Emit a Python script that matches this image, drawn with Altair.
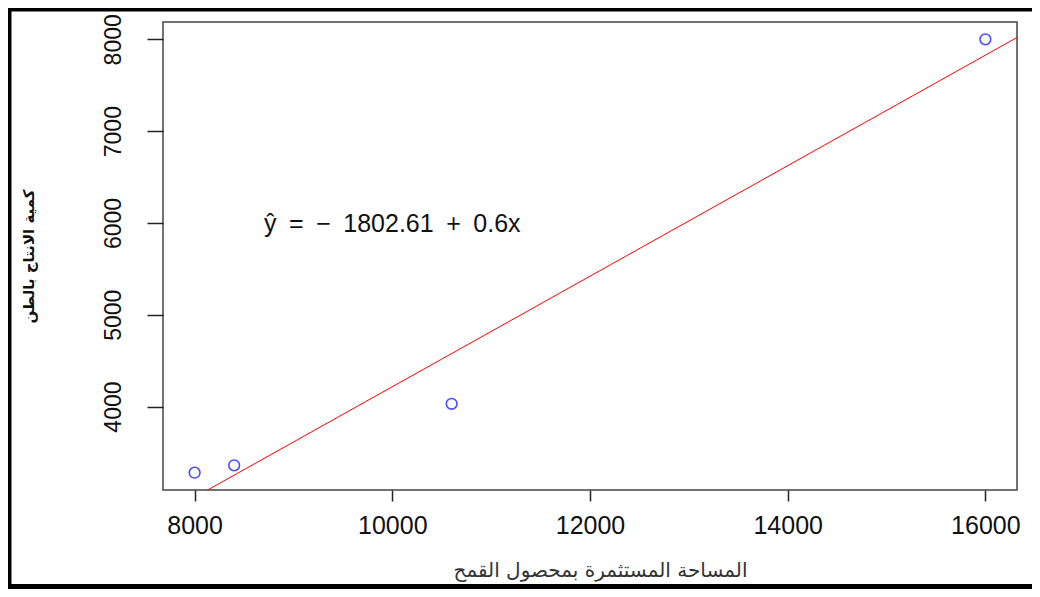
import altair as alt
import pandas as pd

# data
area = [8000, 8400, 10600, 16000]
production = [3280, 3360, 4030, 8000]
x_ticks = [8000, 10000, 12000, 14000, 16000]
y_ticks = [4000, 5000, 6000, 7000, 8000]
x_title = "المساحة المستثمرة بمحصول القمح"
y_title = "كمية الانتاج بالطن"
equation = "ŷ\u2002=\u2002−\u20021802.61\u2002+\u20020.6x"
eq_pos = [10000, 5985]

x_domain = [7680, 16320]
y_domain = [3091.2, 8188.8]

df = pd.DataFrame({"area": area, "production": production})
eq_df = pd.DataFrame({"x": [eq_pos[0]], "y": [eq_pos[1]], "t": [equation]})
one = pd.DataFrame({"k": [0]})

W, H = 854, 468
PAD = {"left": 155, "top": 14, "right": 15, "bottom": 99}

xs = alt.Scale(domain=x_domain, nice=False, zero=False)
ys = alt.Scale(domain=y_domain, nice=False, zero=False)

x_axis = alt.Axis(values=x_ticks, format="d", title=x_title, grid=False, domain=False,
                  tickSize=11, tickWidth=1.5, tickColor="#222",
                  labelFont="Liberation Sans", labelFontSize=25, labelColor="#111",
                  labelPadding=12,
                  titleFont="DejaVu Sans", titleFontSize=20, titleFontWeight="normal",
                  titleColor="#333", titleX=437, titleY=80, titleBaseline="middle",
                  titleAlign="center")
y_axis = alt.Axis(values=y_ticks, format="d", title=y_title, grid=False, domain=False,
                  tickSize=16, tickWidth=1.5, tickColor="#222",
                  labelFont="Liberation Sans", labelFontSize=23, labelColor="#111",
                  labelAngle=270, labelAlign="center", labelBaseline="bottom",
                  labelPadding=22,
                  titleFont="DejaVu Sans", titleFontSize=15, titleFontWeight="bold",
                  titleColor="#111", titleAngle=270, titleX=-135, titleY=H / 2,
                  titleBaseline="middle", titleAlign="center")

base = alt.Chart(df)

points = base.mark_point(shape="circle", filled=False, color="#0000ff",
                         size=115, strokeWidth=1.6).encode(
    x=alt.X("area:Q", scale=xs, axis=x_axis),
    y=alt.Y("production:Q", scale=ys, axis=y_axis),
)

reg = base.transform_regression("area", "production", extent=x_domain).mark_line(
    color="#ff0000", strokeWidth=1, clip=True).encode(
    x=alt.X("area:Q", scale=xs),
    y=alt.Y("production:Q", scale=ys),
)

eq = alt.Chart(eq_df).mark_text(font="Liberation Sans", fontSize=25, color="#111",
                                align="center", baseline="middle").encode(
    x=alt.X("x:Q", scale=xs),
    y=alt.Y("y:Q", scale=ys),
    text="t:N",
)

# outer black frame (left, top, bottom)
frame_left = alt.Chart(one).mark_rule(color="black", strokeWidth=5).encode(
    x=alt.value(-154), y=alt.value(-16), y2=alt.value(570))
frame_top = alt.Chart(one).mark_rule(color="black", strokeWidth=5).encode(
    x=alt.value(-156), x2=alt.value(880), y=alt.value(-13))
frame_bottom = alt.Chart(one).mark_rule(color="black", strokeWidth=5).encode(
    x=alt.value(-156), x2=alt.value(880), y=alt.value(564.5))

chart = alt.layer(reg, points, eq, frame_left, frame_top, frame_bottom).properties(
    width=W, height=H,
    autosize=alt.AutoSizeParams(type="none"),
    padding=PAD,
    background="white",
).configure_view(stroke="#444", strokeWidth=1.5)

chart.save("out.html", embed_options={"renderer": "svg", "actions": False})
